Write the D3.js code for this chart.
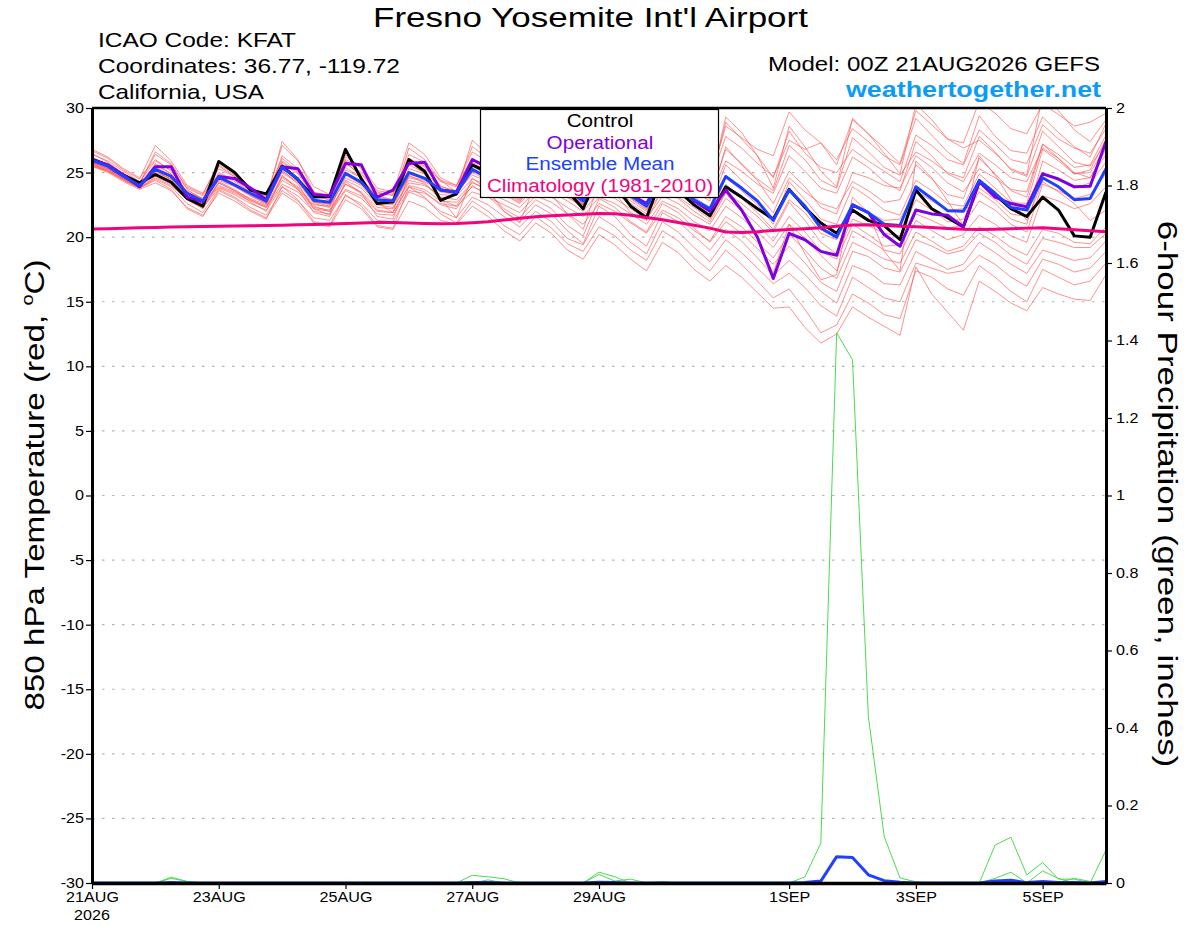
<!DOCTYPE html>
<html>
<head>
<meta charset="utf-8">
<script src="https://cdn.jsdelivr.net/npm/d3@7"></script>
<style>
  body { margin: 0; background: #fff; }
  svg { display: block; font-family: "Liberation Sans", Arial, Helvetica, sans-serif; }
</style>
</head>
<body>
<svg id="chart" width="1200" height="927"></svg>
<script>
// ---- data: 6-hourly GEFS points from 00Z 21AUG2026 (65 steps, 16 days) ----
const stepHours = 6

// 850 hPa temperature (deg C), one value per step, written in day groups of 4
const control = [
  26.05, 25.55, 24.8, 24.2,  24.85, 24.25, 23.0, 22.4,  25.85, 25.0, 23.65, 23.35,  25.5, 24.45, 23.1, 23.15,
  26.8, 24.5, 22.6, 22.75,  26.0, 25.1, 22.85, 23.35,  25.6, 25.0, 24.3, 23.5,  25.5, 24.8, 23.6, 22.2,
  25.0, 24.0, 22.4, 21.5,  24.8, 23.6, 22.5, 21.65,  23.9, 23.1, 22.2, 21.4,  23.7, 22.3, 21.1, 20.3,
  22.1, 21.3, 20.9, 19.8,  23.65, 22.2, 21.5, 20.8,  24.3, 23.3, 22.2, 21.6,  23.1, 22.1, 20.1, 20.0,
  23.5
]
const operational = [
  26.0, 25.6, 24.8, 23.9,  25.45, 25.45, 23.1, 22.75,  24.7, 24.55, 23.8, 22.9,  25.45, 25.3, 23.3, 23.2,
  25.7, 25.6, 23.1, 23.65,  25.7, 25.8, 23.65, 23.5,  26.0, 25.4, 24.6, 23.8,  25.8, 25.2, 24.0, 22.9,
  25.3, 24.6, 23.3, 22.6,  24.9, 24.0, 22.8, 22.0,  23.65, 22.1, 20.0, 16.8,  20.3, 19.8, 18.9, 18.6,
  22.5, 21.9, 20.2, 19.3,  22.1, 21.8, 21.7, 20.8,  24.3, 23.1, 22.6, 22.35,  24.9, 24.5, 23.9, 23.95,
  27.4
]
const ensembleMean = [
  25.95, 25.5, 24.7, 24.0,  25.25, 24.7, 23.4, 22.8,  24.65, 24.05, 23.4, 22.8,  25.4, 24.5, 22.85, 22.7,
  24.95, 24.25, 22.9, 22.8,  25.0, 24.55, 23.65, 23.45,  25.25, 24.6, 23.9, 23.2,  25.0, 24.5, 23.6, 22.8,
  24.9, 24.2, 23.2, 22.4,  24.6, 23.9, 22.9, 22.2,  24.7, 23.8, 22.8, 21.3,  23.65, 22.4, 20.7, 20.0,
  22.5, 21.9, 21.0, 20.9,  23.9, 23.0, 22.05, 22.0,  24.4, 23.4, 22.3, 22.1,  24.6, 23.9, 22.9, 23.0,
  25.3
]
const climatology = [
  20.63, 20.66, 20.69, 20.72,  20.75, 20.78, 20.80, 20.82,  20.84, 20.86, 20.88, 20.90,  20.93, 20.96, 20.99, 21.02,
  21.06, 21.10, 21.13, 21.14,  21.10, 21.06, 21.04, 21.06,  21.12, 21.20, 21.32, 21.46,  21.58, 21.66, 21.72, 21.78,
  21.84, 21.82, 21.70, 21.52,  21.34, 21.14, 20.92, 20.70,  20.40, 20.36, 20.42, 20.52,  20.60, 20.66, 20.72, 20.84,
  20.94, 20.96, 20.90, 20.84,  20.80, 20.74, 20.68, 20.62,  20.60, 20.62, 20.66, 20.70,  20.72, 20.66, 20.58, 20.50,
  20.42
]

// perturbed members
const m01 = [26.4,25.9,25.1,24.3, 25.9,25.2,23.8,23.2, 25.3,24.7,23.8,23.2, 26.1,25.1,23.4,23.1, 25.7,24.9,23.4,23.3, 26.1,25.5,24.4,24.0, 26.6,25.8,24.9,24.1, 26.5,25.9,24.8,23.9, 26.8,25.9,24.7,23.9, 27.0,26.2,25.1,24.4, 28.6,27.7,26.8,26.3, 29.7,28.3,27.3,25.6, 29.1,28.0,26.9,25.7, 29.8,28.7,27.6,27.3, 30.5,29.6,28.4,28.0, 30.3,29.5,28.6,28.9, 29.6]
const m02 = [26.7,26.1,25.2,24.5, 27.1,25.9,24.0,23.4, 25.6,24.8,23.6,22.9, 26.3,25.3,23.5,23.2, 26.0,25.4,23.5,23.2, 26.4,25.8,24.3,23.9, 27.0,26.1,25.0,24.2, 26.0,25.4,24.6,23.8, 26.1,25.5,24.4,23.6, 26.9,25.9,24.7,24.2, 27.8,26.9,25.7,24.7, 27.5,26.8,27.3,26.0, 28.4,27.4,26.3,25.6, 29.2,27.9,26.6,25.7, 29.4,27.8,26.7,26.5, 29.3,28.1,27.0,26.2, 28.8]
const m03 = [25.8,25.3,24.6,23.9, 25.7,24.9,23.6,23.0, 25.0,24.4,23.6,23.1, 27.1,25.9,23.9,23.3, 25.9,25.0,23.6,23.4, 27.3,26.4,24.6,24.0, 26.1,25.3,24.4,23.7, 25.9,25.1,24.0,23.1, 25.4,24.8,23.9,23.2, 26.3,25.6,24.6,24.1, 28.9,27.6,26.3,24.6, 28.2,26.5,25.4,25.0, 26.8,25.9,25.1,24.3, 27.9,27.1,26.0,25.6, 28.3,27.2,26.0,25.7, 28.7,27.6,26.9,26.5, 28.4]
const m04 = [26.1,25.7,24.9,24.2, 26.4,25.6,23.9,23.3, 25.8,25.0,23.9,23.2, 25.9,25.0,23.3,23.0, 26.2,25.5,23.8,23.5, 25.6,25.0,23.9,23.6, 25.8,25.1,24.0,23.4, 26.3,25.6,24.3,23.5, 25.9,25.2,24.1,23.3, 25.5,24.8,23.7,23.1, 26.8,25.7,24.5,23.6, 27.1,26.0,24.4,23.8, 27.7,26.6,25.4,24.8, 26.6,25.9,25.0,24.6, 27.8,26.6,25.2,24.7, 28.2,27.0,25.8,25.5, 27.3]
const m05 = [25.9,25.5,24.8,24.1, 25.0,24.5,23.5,23.0, 24.9,24.3,23.5,23.0, 25.8,24.9,23.2,22.9, 25.4,24.6,23.1,22.9, 26.0,25.4,24.0,23.4, 25.1,24.6,23.9,23.3, 25.6,25.0,23.8,23.0, 26.3,25.4,24.0,23.2, 25.0,24.4,23.6,23.0, 25.9,25.1,24.1,23.4, 26.3,25.1,23.8,23.4, 26.2,25.4,24.3,23.6, 27.4,26.3,24.9,24.3, 26.5,25.6,24.6,24.3, 26.9,26.1,25.0,24.6, 26.8]
const m06 = [26.2,25.6,24.8,24.2, 25.6,24.9,23.3,22.7, 24.4,23.9,23.2,22.6, 25.1,24.3,22.8,22.5, 24.8,24.1,22.8,22.7, 25.3,24.9,23.8,23.4, 25.5,24.8,23.9,23.1, 25.4,24.7,23.5,22.5, 25.2,24.5,23.3,22.6, 25.3,24.6,23.5,22.8, 27.0,25.6,24.4,22.6, 25.1,23.9,22.3,21.8, 25.0,24.6,24.0,23.8, 26.3,25.4,24.2,23.5, 25.3,24.6,23.7,23.5, 27.2,26.1,24.9,25.2, 27.6]
const m07 = [25.7,25.3,24.6,23.9, 25.3,24.6,23.2,22.5, 24.6,24.0,23.2,22.6, 25.6,24.6,22.7,22.4, 25.2,24.6,23.0,22.6, 24.7,24.4,23.6,23.5, 24.8,24.3,23.6,22.9, 24.7,24.3,23.4,22.6, 24.5,23.9,23.0,22.2, 24.9,24.1,23.1,22.3, 25.6,24.4,23.3,21.9, 24.6,23.5,22.6,22.2, 24.3,23.6,22.7,22.9, 25.6,24.5,23.3,23.0, 26.1,24.9,23.6,23.1, 27.2,26.4,25.4,25.6, 27.9]
const m08 = [25.8,25.4,24.7,24.0, 24.9,24.3,23.3,22.8, 24.5,24.0,23.3,22.7, 25.0,24.2,22.6,22.3, 24.6,24.0,22.6,22.5, 24.6,24.3,23.5,23.3, 25.0,24.4,23.7,23.0, 24.5,24.0,23.2,22.6, 24.6,24.0,23.0,22.1, 24.2,23.5,22.5,21.6, 24.6,23.6,22.5,21.0, 24.3,22.9,21.4,21.0, 23.9,23.1,22.1,21.7, 24.4,23.6,22.6,22.4, 24.9,23.8,22.7,22.6, 26.8,25.9,24.9,25.0, 27.0]
const m09 = [26.0,25.5,24.7,24.0, 25.4,24.8,23.4,22.8, 24.8,24.1,23.3,22.7, 25.3,24.4,22.7,22.6, 24.9,24.1,22.7,22.6, 25.1,24.6,23.6,23.4, 25.2,24.5,23.6,22.8, 24.3,23.8,23.1,22.5, 24.2,23.7,22.8,22.0, 24.4,23.7,22.6,21.8, 24.1,23.0,21.9,20.6, 22.9,21.9,20.3,19.8, 22.4,21.9,21.3,21.4, 23.6,22.8,22.1,22.2, 23.8,22.9,21.8,21.6, 25.9,25.2,24.4,24.6, 26.4]
const m10 = [25.9,25.4,24.6,23.9, 25.1,24.5,23.2,22.6, 24.2,23.6,23.0,22.5, 24.7,23.9,22.5,22.4, 24.4,23.8,22.5,22.3, 24.2,24.0,23.3,23.2, 24.5,24.0,23.4,22.7, 24.8,24.1,23.1,22.3, 23.9,23.4,22.6,21.8, 23.6,23.1,22.3,21.4, 23.5,22.6,21.6,20.4, 22.7,21.3,19.6,18.7, 21.4,20.9,20.3,20.1, 22.9,22.1,21.2,21.4, 23.5,22.6,21.4,21.0, 25.0,24.5,23.8,24.2, 25.8]
const m11 = [26.1,25.5,24.6,23.9, 24.8,24.2,23.1,22.6, 24.0,23.5,22.9,22.4, 24.4,23.7,22.3,22.1, 24.1,23.5,22.3,22.2, 24.4,24.1,23.1,22.9, 24.2,23.8,23.3,22.6, 23.9,23.5,22.8,22.0, 23.5,23.0,22.2,21.4, 23.2,22.6,21.7,21.0, 23.0,22.1,21.0,19.7, 21.6,20.4,18.9,18.3, 21.0,20.2,19.3,19.4, 21.8,21.3,20.7,20.9, 22.8,22.1,21.0,20.4, 24.1,23.6,23.0,23.3, 24.9]
const m12 = [25.6,25.1,24.4,23.8, 24.7,24.1,23.0,22.5, 23.9,23.4,22.8,22.3, 24.1,23.5,22.2,22.0, 23.7,23.2,22.0,21.9, 24.0,23.7,22.8,22.7, 23.9,23.4,22.9,22.3, 23.6,23.1,22.3,21.6, 23.1,22.6,21.8,21.0, 22.8,22.2,21.2,20.5, 22.4,21.5,20.4,19.2, 21.0,19.9,18.6,17.4, 20.5,19.8,19.0,18.7, 21.3,20.5,19.8,20.2, 21.7,21.0,20.1,19.6, 23.2,22.8,22.2,22.6, 23.9]
const m13 = [25.5,25.1,24.5,23.8, 24.6,24.0,22.9,22.3, 23.8,23.3,22.6,22.1, 23.9,23.2,22.0,21.8, 23.6,23.0,21.8,21.7, 23.6,23.4,22.6,22.4, 23.5,23.1,22.5,21.9, 23.2,22.7,21.8,21.0, 22.6,22.0,21.1,20.3, 22.1,21.5,20.5,19.7, 21.6,20.8,19.6,18.4, 20.2,19.0,17.6,16.8, 19.6,19.0,18.3,18.0, 20.4,19.7,18.9,19.3, 20.8,20.1,19.2,18.6, 20.6,20.3,19.6,19.5, 20.8]
const m14 = [25.7,25.2,24.5,23.9, 24.9,24.3,22.9,22.2, 24.2,23.6,22.7,22.0, 24.8,23.7,21.9,21.6, 24.3,23.4,21.6,21.4, 24.8,24.2,22.9,22.4, 24.3,23.5,22.2,21.5, 22.9,22.2,20.9,20.1, 23.0,22.3,21.2,20.4, 22.6,21.9,20.7,19.6, 21.2,20.3,19.1,17.9, 19.3,18.0,16.5,15.8, 18.9,18.5,17.6,17.3, 19.8,19.3,18.7,19.0, 20.3,19.6,18.6,17.9, 19.9,19.6,19.2,19.2, 20.3]
const m15 = [25.8,25.3,24.6,24.0, 25.2,24.4,23.0,22.3, 24.3,23.7,22.9,22.3, 24.6,23.8,22.4,22.0, 24.1,23.4,22.1,21.9, 23.9,23.5,22.5,22.2, 24.0,23.2,22.0,21.2, 22.5,21.8,20.5,19.5, 22.4,21.6,20.2,19.3, 21.9,21.2,20.1,19.0, 20.6,19.7,18.4,17.0, 18.2,17.1,15.8,14.9, 17.8,17.3,16.4,16.3, 18.9,18.2,17.5,17.9, 19.6,18.8,17.9,17.2, 19.0,18.6,18.2,18.4, 19.7]
const m16 = [25.6,25.2,24.5,23.8, 24.5,23.9,22.6,21.9, 23.7,23.1,22.3,21.7, 23.6,22.8,21.5,21.3, 23.2,22.6,21.3,21.2, 23.5,23.0,22.0,21.5, 23.1,22.5,21.6,20.8, 22.0,21.2,19.9,19.4, 21.6,20.8,19.6,18.7, 21.2,20.4,19.2,18.1, 19.8,18.8,17.6,16.4, 17.2,16.1,14.7,13.9, 16.9,16.1,15.3,15.0, 18.0,17.6,17.2,17.4, 18.6,17.9,16.9,16.2, 18.3,17.9,17.3,17.6, 18.9]
const m17 = [25.5,25.0,24.3,23.7, 24.2,23.6,22.3,21.7, 23.4,22.8,22.0,21.4, 23.9,22.9,21.2,20.9, 23.3,22.4,20.9,20.7, 23.9,23.1,21.8,21.1, 22.8,22.0,20.9,20.2, 21.6,20.7,19.5,18.9, 20.8,20.1,19.0,18.2, 20.5,19.7,18.4,17.4, 19.0,17.9,16.6,15.3, 16.0,14.4,12.6,13.2, 15.6,14.9,14.0,13.7, 17.4,16.9,16.0,15.5, 17.8,16.9,15.8,15.0, 17.5,16.9,16.3,16.6, 18.0]
const m18 = [25.6,25.1,24.4,23.8, 24.4,23.7,22.2,21.6, 23.6,23.0,22.1,21.5, 23.4,22.6,21.1,20.8, 22.9,22.2,20.8,20.6, 22.8,22.3,21.3,21.0, 22.4,21.6,20.5,19.7, 21.1,20.3,19.0,18.3, 20.2,19.4,18.3,17.4, 19.6,18.8,17.5,16.6, 17.8,16.9,15.7,14.5, 14.6,13.0,11.8,12.5, 14.6,13.8,13.1,12.4, 17.7,15.6,14.2,12.8, 16.6,15.8,14.9,14.3, 16.1,15.6,15.2,15.1, 17.1]
const m19 = [26.5,25.8,24.9,24.1, 26.6,25.7,23.7,22.9, 25.9,25.1,23.8,22.8, 27.4,26.0,23.5,22.8, 26.4,25.3,23.2,22.9, 26.9,26.0,24.4,23.5, 27.5,26.4,24.8,23.6, 25.8,25.1,24.1,23.1, 27.0,25.9,24.3,23.1, 25.8,25.2,24.4,23.8, 29.3,28.1,26.3,23.8, 28.6,27.0,25.1,23.9, 29.2,28.0,26.5,24.9, 30.3,29.1,27.6,26.9, 27.5,26.5,25.3,24.8, 31.0,29.8,28.3,27.4, 29.1]
const m20 = [26.8,26.2,25.3,24.6, 26.0,25.1,23.5,22.8, 25.5,24.7,23.6,22.6, 25.2,24.1,22.2,21.7, 25.8,24.7,22.7,21.9, 25.9,24.9,23.0,21.5, 24.6,23.6,22.0,21.1, 24.2,23.3,21.8,20.6, 24.3,23.4,21.9,21.3, 23.7,23.0,22.0,21.2, 23.4,22.0,19.9,17.2, 21.0,18.7,16.7,17.1, 23.1,21.9,18.9,17.4, 25.9,24.6,22.8,20.9, 26.3,24.8,22.9,21.3, 24.3,23.5,22.6,21.3, 22.1]
const members = [m01, m02, m03, m04, m05, m06, m07, m08, m09, m10, m11, m12, m13, m14, m15, m16, m17, m18, m19, m20]

// 6-hour precipitation (inches); only the members that report rain, the rest stay at 0
const rainA = [0,0,0,0, 0,0.012,0.004,0, 0,0,0,0, 0,0,0,0, 0,0,0,0, 0,0,0,0, 0,0,0,0, 0,0,0,0, 0,0,0,0, 0,0,0,0, 0,0,0,0, 0,0.016,0.103,1.42, 1.35,0.43,0.12,0.013, 0.003,0,0,0, 0,0,0,0, 0,0,0,0, 0]
const rainB = [0,0,0,0, 0,0.015,0.004,0, 0,0,0,0, 0,0,0,0, 0,0,0,0, 0,0,0,0, 0.02,0.016,0.011,0, 0,0,0,0, 0,0,0,0, 0,0,0,0, 0,0,0,0, 0,0,0,0, 0,0,0,0, 0,0,0,0, 0,0.098,0.118,0.021, 0.053,0.01,0.01,0, 0.085]
const rainC = [0,0,0,0, 0,0,0,0, 0,0,0,0, 0,0,0,0, 0,0,0,0, 0,0,0,0, 0,0.008,0,0, 0,0,0,0, 0.028,0.016,0,0, 0,0,0,0, 0,0,0,0, 0,0,0,0, 0,0,0,0, 0,0,0,0, 0,0.012,0.028,0, 0.031,0.012,0,0, 0.004]
const rainD = [0,0,0,0, 0,0,0,0, 0,0,0,0, 0,0,0,0, 0,0,0,0, 0,0,0,0, 0,0,0,0, 0,0,0,0, 0.022,0.005,0.01,0, 0.004,0,0,0, 0,0,0,0, 0,0,0,0, 0,0,0,0, 0,0,0,0, 0,0,0,0, 0,0.002,0.012,0.004, 0]
const rainMembers = [rainA, rainB, rainC, rainD]
const rainMean = [0,0,0,0, 0,0.001,0,0, 0,0,0,0, 0,0,0,0, 0,0,0,0, 0,0,0,0, 0.001,0.001,0,0, 0,0,0,0, 0.002,0.001,0,0, 0,0,0,0, 0,0,0,0, 0,0.001,0.005,0.068, 0.066,0.021,0.006,0.002, 0,0,0,0, 0,0.005,0.007,0.001, 0.004,0.001,0.001,0, 0.004]

// axis ticks
const tempTicks = [-30, -25, -20, -15, -10, -5, 0, 5, 10, 15, 20, 25, 30]
const gridTemps = [-25, -20, -15, -10, -5, 0, 5, 10, 15, 20, 25]
const precipTicks = [0, 0.2, 0.4, 0.6, 0.8, 1, 1.2, 1.4, 1.6, 1.8, 2]
const dateTicks = ["2026-08-21", "2026-08-23", "2026-08-25", "2026-08-27", "2026-08-29", "2026-09-01", "2026-09-03", "2026-09-05"]
const dateLabels = ["21AUG", "23AUG", "25AUG", "27AUG", "29AUG", "1SEP", "3SEP", "5SEP"]

const legendItems = [
  { label: "Control", color: "#000000" },
  { label: "Operational", color: "#8000e0" },
  { label: "Ensemble Mean", color: "#2040ff" },
  { label: "Climatology (1981-2010)", color: "#f0047f" }
]

// ---- layout ----
const plot = { left: 92, right: 1106, top: 108, bottom: 883 }
const svg = d3.select("#chart")

// the original plot font is wider than Liberation Sans: stretch text horizontally
function stretch(sel, k) {
  sel.each(function () {
    const w = this.getComputedTextLength()
    this.setAttribute("textLength", (w * k).toFixed(1))
    this.setAttribute("lengthAdjust", "spacingAndGlyphs")
  })
}

const t0 = new Date(Date.UTC(2026, 7, 21, 0))
const timeAt = i => new Date(t0.getTime() + i * stepHours * 3600e3)

const x = d3.scaleUtc()
  .domain([t0, timeAt(control.length - 1)])
  .range([plot.left, plot.right])
const yT = d3.scaleLinear().domain([-30, 30]).range([plot.bottom, plot.top])
const yP = d3.scaleLinear().domain([0, 2]).range([plot.bottom, plot.top])

const tempLine = d3.line().x((d, i) => x(timeAt(i))).y(d => yT(d))
const rainLine = d3.line().x((d, i) => x(timeAt(i))).y(d => yP(d))

svg.append("defs").append("clipPath").attr("id", "plotclip")
  .append("rect")
  .attr("x", plot.left).attr("y", plot.top)
  .attr("width", plot.right - plot.left).attr("height", plot.bottom - plot.top)

// dotted grid
svg.append("g").selectAll("line").data(gridTemps).enter().append("line")
  .attr("x1", plot.left).attr("x2", plot.right)
  .attr("y1", d => yT(d)).attr("y2", d => yT(d))
  .attr("stroke", "#b4b4b4").attr("stroke-width", 1.2)
  .attr("stroke-dasharray", "2.5,7.5")

const lines = svg.append("g").attr("clip-path", "url(#plotclip)")

lines.selectAll(".member").data(members).enter().append("path")
  .attr("class", "member")
  .attr("d", tempLine)
  .attr("fill", "none").attr("stroke", "#ff5050").attr("stroke-opacity", 0.7).attr("stroke-width", 0.9)

lines.selectAll(".rain").data(rainMembers).enter().append("path")
  .attr("class", "rain")
  .attr("d", rainLine)
  .attr("fill", "none").attr("stroke", "#4cdc4c").attr("stroke-width", 1)

lines.append("path").datum(rainMean)
  .attr("d", rainLine)
  .attr("fill", "none").attr("stroke", "#2040ff").attr("stroke-width", 3).attr("stroke-linejoin", "round")

const bold = [
  [control, "#000000"],
  [operational, "#8000e0"],
  [ensembleMean, "#2040ff"],
  [climatology, "#f0047f"]
]
bold.forEach(([series, color]) => {
  lines.append("path").datum(series)
    .attr("d", tempLine)
    .attr("fill", "none").attr("stroke", color).attr("stroke-width", 3).attr("stroke-linejoin", "round")
})

// axes
const leftAxis = svg.append("g")
  .attr("transform", `translate(${plot.left},0)`)
  .call(d3.axisLeft(yT).tickValues(tempTicks).tickSize(6).tickSizeOuter(0).tickFormat(d => String(d)))
const rightAxis = svg.append("g")
  .attr("transform", `translate(${plot.right},0)`)
  .call(d3.axisRight(yP).tickValues(precipTicks).tickSize(6).tickSizeOuter(0).tickFormat(d => String(d)))
const bottomAxis = svg.append("g")
  .attr("transform", `translate(0,${plot.bottom})`)
  .call(d3.axisBottom(x).tickValues(dateTicks.map(d => new Date(d + "T00:00:00Z")))
    .tickSize(6).tickSizeOuter(0).tickFormat((d, i) => dateLabels[i]))

;[leftAxis, rightAxis, bottomAxis].forEach(g => {
  g.attr("font-family", null).attr("font-size", null)
  g.selectAll("text").attr("font-size", 14).attr("fill", "#000")
  g.selectAll(".tick line").attr("stroke", "#000").attr("stroke-width", 1.2)
  g.select(".domain").attr("stroke", "#000").attr("stroke-width", 3)
  stretch(g.selectAll("text"), 1.15)
})
leftAxis.selectAll("text").attr("x", -8)
rightAxis.selectAll("text").attr("x", 10)
bottomAxis.selectAll("text").attr("y", 9)
bottomAxis.select(".domain").attr("stroke-width", 3.5)

const yearLabel = svg.append("text").attr("x", x(t0)).attr("y", 920)
  .attr("text-anchor", "middle").attr("font-size", 14).text("2026")
stretch(yearLabel, 1.15)

// top frame
svg.append("line")
  .attr("x1", plot.left).attr("x2", plot.right)
  .attr("y1", plot.top).attr("y2", plot.top)
  .attr("stroke", "#000").attr("stroke-width", 2.5)

// legend box
const legend = svg.append("g")
legend.append("rect")
  .attr("x", 480.5).attr("y", 109.5).attr("width", 238).attr("height", 88)
  .attr("fill", "#fff").attr("stroke", "#000").attr("stroke-width", 1.2)
const legendText = legend.selectAll("text").data(legendItems).enter().append("text")
  .attr("x", 600).attr("y", (d, i) => 127 + i * 21.6)
  .attr("text-anchor", "middle").attr("font-size", 17.5)
  .attr("fill", d => d.color)
  .text(d => d.label)
stretch(legendText, 1.18)

// header texts
svg.append("text").attr("x", 590.5).attr("y", 27)
  .attr("text-anchor", "middle").attr("font-size", 27)
  .attr("textLength", 435).attr("lengthAdjust", "spacingAndGlyphs")
  .text("Fresno Yosemite Int'l Airport")

const info = [
  { text: "ICAO Code: KFAT", w: 198 },
  { text: "Coordinates: 36.77, -119.72", w: 302 },
  { text: "California, USA", w: 166 }
]
svg.selectAll(".info").data(info).enter().append("text")
  .attr("class", "info")
  .attr("x", 98).attr("y", (d, i) => 47 + i * 26)
  .attr("font-size", 21)
  .attr("textLength", d => d.w).attr("lengthAdjust", "spacingAndGlyphs")
  .text(d => d.text)

svg.append("text").attr("x", 1100).attr("y", 71)
  .attr("text-anchor", "end").attr("font-size", 21)
  .attr("textLength", 332).attr("lengthAdjust", "spacingAndGlyphs")
  .text("Model: 00Z 21AUG2026 GEFS")
svg.append("text").attr("x", 1101).attr("y", 97)
  .attr("text-anchor", "end").attr("font-size", 22.5).attr("font-weight", "bold")
  .attr("fill", "#0a9cf8")
  .attr("textLength", 255).attr("lengthAdjust", "spacingAndGlyphs")
  .text("weathertogether.net")

// axis titles
const leftTitle = svg.append("text")
  .attr("transform", "translate(44,485) rotate(-90) scale(1.185,1)")
  .attr("text-anchor", "middle").attr("font-size", 28)
leftTitle.append("tspan").text("850 hPa Temperature (red, ")
leftTitle.append("tspan").attr("font-size", 17).attr("dy", -11).text("o")
leftTitle.append("tspan").attr("dy", 11).text("C)")

svg.append("text")
  .attr("transform", "translate(1158,494) rotate(90) scale(1.25,1)")
  .attr("text-anchor", "middle").attr("font-size", 28)
  .text("6-hour Precipitation (green, inches)")
</script>
</body>
</html>
